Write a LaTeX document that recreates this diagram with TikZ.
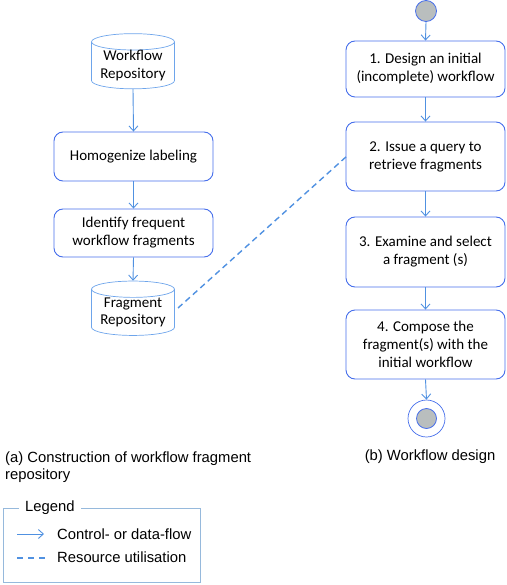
\documentclass[tikz,border=0pt]{standalone}
\usepackage{fontspec}
\setmainfont{Carlito}
\newfontfamily\capfont{Liberation Sans}
\usetikzlibrary{arrows.meta,shapes.geometric}
\definecolor{boxblue}{RGB}{70,110,235}
\definecolor{arrblue}{RGB}{80,145,225}
\definecolor{cylblue}{RGB}{110,165,235}
\definecolor{legblue}{RGB}{150,185,220}
\definecolor{dotgray}{RGB}{185,190,190}
\tikzset{
  stepbox/.style={draw=boxblue, line width=0.9pt, rounded corners=9pt, align=center,
    font=\fontsize{15}{18}\selectfont, inner sep=0pt},
  repo/.style={cylinder, shape border rotate=90, aspect=0.25, draw=cylblue, line width=0.7pt,
    align=center, font=\fontsize{15}{17.5}\selectfont, inner sep=0pt,
    minimum width=83pt, minimum height=46pt},
  flow/.style={draw=arrblue, line width=0.9pt, -{Straight Barb[length=5pt,width=9pt]}},
  resource/.style={draw=arrblue, line width=1.4pt, dash pattern=on 6pt off 4pt},
  caption/.style={font=\capfont\fontsize{14.8}{17}\selectfont, align=left, inner sep=0pt}
}
\begin{document}
\begin{tikzpicture}[x=1pt,y=-1pt]
\useasboundingbox (0,0) rectangle (506,585);
% left column
\node[repo] (wr) at (133,65.5) {Workflow\\Repository};
\node[stepbox, minimum width=159pt, minimum height=49pt] (hl) at (133.5,156.5) {Homogenize labeling};
\node[stepbox, minimum width=159pt, minimum height=48pt] (if) at (133.5,233) {Identify frequent\\workflow fragments};
\node[repo, minimum height=45pt] (fr) at (133,312.5) {Fragment\\Repository};
\draw[flow] (wr.bottom) -- (hl.north);
\draw[flow] (hl.south) -- (if.north);
\draw[flow] (if.south) -- (fr.top);
% right column
\node[circle, draw=boxblue, fill=dotgray, line width=0.8pt, minimum size=21pt, inner sep=0pt] (st) at (426,11) {};
\node[stepbox, minimum width=159pt, minimum height=56pt] (s1) at (425.5,69) {1. Design an initial\\(incomplete) workflow};
\node[stepbox, minimum width=159pt, minimum height=69pt] (s2) at (425.5,156.5) {2. Issue a query to\\retrieve fragments};
\node[stepbox, minimum width=159pt, minimum height=70pt] (s3) at (425.5,252) {3. Examine and select\\a fragment (s)};
\node[stepbox, minimum width=159pt, minimum height=69pt] (s4) at (425.5,344.5) {4. Compose the\\fragment(s) with the\\initial workflow};
\node[circle, draw=boxblue, line width=0.7pt, minimum size=37pt, inner sep=0pt] (en) at (426.5,418.5) {};
\node[circle, draw=boxblue, fill=dotgray, line width=0.8pt, minimum size=20pt, inner sep=0pt] (eni) at (426.5,418.5) {};
\draw[flow] (st.south) -- (s1.north);
\draw[flow] (s1.south) -- (s2.north);
\draw[flow] (s2.south) -- (s3.north);
\draw[flow] (s3.south) -- (s4.north);
\draw[flow] (s4.south) -- (en.north);
% resource utilisation
\coordinate (fre) at (178,308);
\coordinate (s2w) at (347,156);
\draw[resource] (fre) -- (s2w);
% captions
\node[caption, anchor=north west] (capa) at (5,452) {(a) Construction of workflow fragment\\repository};
\node[caption, anchor=north] (capb) at (430,450) {(b) Workflow design};
% legend
\node[caption, anchor=west] (lt) at (25,508) {Legend};
\draw[legblue, line width=0.8pt] (lt.west) ++(-6pt,0) -- (3,508) -- (3,582) -- (200,582) -- (200,508) -- ([xshift=6pt]lt.east);
\coordinate (la1) at (17,534);
\coordinate (la2) at (44,534);
\draw[flow] (la1) -- (la2);
\node[caption, anchor=west] (lc) at (57,534) {Control- or data-flow};
\coordinate (ld1) at (17,558);
\coordinate (ld2) at (46,558);
\draw[resource, dash pattern=on 6pt off 5pt] (ld1) -- (ld2);
\node[caption, anchor=west] (lr) at (57,557.5) {Resource utilisation};
\end{tikzpicture}
\end{document}
